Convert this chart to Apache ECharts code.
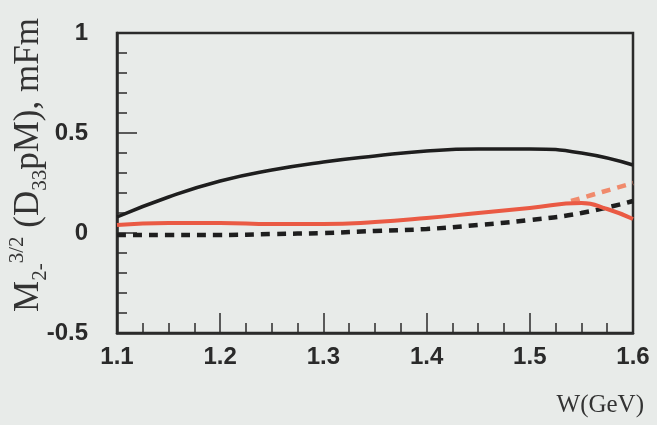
<!DOCTYPE html>
<html>
<head>
<meta charset="utf-8">
<script src="https://cdn.jsdelivr.net/npm/echarts@6/dist/echarts.min.js"></script>
<style>
  html, body { margin: 0; padding: 0; background: #e8ebe9; }
  #chart { width: 657px; height: 425px; }
</style>
</head>
<body>
<div id="chart"></div>
<script>
// W (GeV) sample points and the multipole curves M2-^{3/2}(D33pM) in mFm
var wBlack      = [1.10, 1.15, 1.20, 1.25, 1.30, 1.35, 1.40, 1.45, 1.50, 1.55, 1.60];
var blackSolid  = [0.08, 0.18, 0.26, 0.315, 0.355, 0.385, 0.41, 0.42, 0.42, 0.40, 0.34];

var wBlackDash  = [1.10, 1.15, 1.20, 1.25, 1.30, 1.35, 1.40, 1.45, 1.50, 1.55, 1.60];
var blackDashed = [-0.01, -0.01, -0.01, -0.005, 0.0, 0.01, 0.02, 0.04, 0.065, 0.10, 0.16];

var wRed        = [1.10, 1.15, 1.20, 1.25, 1.30, 1.35, 1.40, 1.45, 1.50, 1.55, 1.575, 1.60];
var redSolid    = [0.04, 0.05, 0.05, 0.045, 0.045, 0.055, 0.075, 0.10, 0.125, 0.15, 0.12, 0.07];

var wRedDash    = [1.54, 1.56, 1.58, 1.60];
var redDashed   = [0.16, 0.19, 0.22, 0.25];

var xTicks = [1.1, 1.2, 1.3, 1.4, 1.5, 1.6];
var yTicks = [-0.5, 0, 0.5, 1];

function pairs(xs, ys) {
  return xs.map(function (x, i) { return [x, ys[i]]; });
}

var tickFont = { fontFamily: 'Liberation Sans', fontWeight: 'bold', fontSize: 24, color: '#2a2a2a' };
var ink = '#2b2b2b';

var chart = echarts.init(document.getElementById('chart'));
chart.setOption({
  backgroundColor: '#e8ebe9',
  animation: false,
  title: {
    text: 'W(GeV)',
    right: 8,
    bottom: 2,
    textStyle: { fontFamily: 'Liberation Serif', fontWeight: 'normal', fontSize: 25, color: '#333' }
  },
  grid: {
    left: 117, right: 24, top: 33, bottom: 92,
    containLabel: false,
    outerBoundsMode: 'none',
    show: true, borderColor: ink, borderWidth: 2.5, backgroundColor: 'transparent'
  },
  xAxis: {
    type: 'value',
    position: 'bottom',
    min: xTicks[0], max: xTicks[xTicks.length - 1], interval: 0.1,
    axisLine: { show: true, onZero: false, lineStyle: { color: ink, width: 2.5 } },
    axisTick: { show: true, inside: true, length: 20, lineStyle: { color: ink, width: 1.5 } },
    minorTick: { show: true, splitNumber: 4, length: 10, lineStyle: { color: ink, width: 1.5 } },
    splitLine: { show: false },
    axisLabel: Object.assign({ margin: 12, formatter: function (v) { return v.toFixed(1); } }, tickFont)
  },
  yAxis: {
    type: 'value',
    position: 'left',
    min: yTicks[0], max: yTicks[yTicks.length - 1], interval: 0.5,
    axisLine: { show: true, onZero: false, lineStyle: { color: ink, width: 2.5 } },
    axisTick: { show: true, inside: true, length: 20, lineStyle: { color: ink, width: 1.5 } },
    minorTick: { show: true, splitNumber: 5, length: 10, lineStyle: { color: ink, width: 1.5 } },
    splitLine: { show: false },
    axisLabel: Object.assign({ margin: 29, formatter: function (v) { return String(v); } }, tickFont),
    name: '{t|M}{s|2-}{p|3/2}{t| (D}{s|33}{t|pM), mFm}',
    nameLocation: 'middle',
    nameRotate: 90,
    nameGap: 66,
    nameMoveOverlap: false,
    nameTextStyle: {
      padding: [0, 0, 0, 36],
      rich: {
        t: { fontFamily: 'Liberation Serif', fontSize: 35, color: '#333', lineHeight: 44 },
        s: { fontFamily: 'Liberation Serif', fontSize: 21, color: '#333', lineHeight: 21, verticalAlign: 'bottom' },
        p: { fontFamily: 'Liberation Serif', fontSize: 21, color: '#333', lineHeight: 21, verticalAlign: 'top' }
      }
    }
  },
  series: [
    {
      type: 'line', data: pairs(wBlackDash, blackDashed), smooth: true, showSymbol: false,
      lineStyle: { color: '#1e1e1e', width: 4.5, type: [9, 7] }, z: 2
    },
    {
      type: 'line', data: pairs(wRedDash, redDashed), smooth: true, showSymbol: false,
      lineStyle: { color: '#f08a6c', width: 4.5, type: [9, 7] }, z: 2
    },
    {
      type: 'line', data: pairs(wRed, redSolid), smooth: true, showSymbol: false,
      lineStyle: { color: '#ea5a44', width: 4 }, z: 3
    },
    {
      type: 'line', data: pairs(wBlack, blackSolid), smooth: true, showSymbol: false,
      lineStyle: { color: '#1e1e1e', width: 3.5 }, z: 4
    }
  ]
});
</script>
</body>
</html>
